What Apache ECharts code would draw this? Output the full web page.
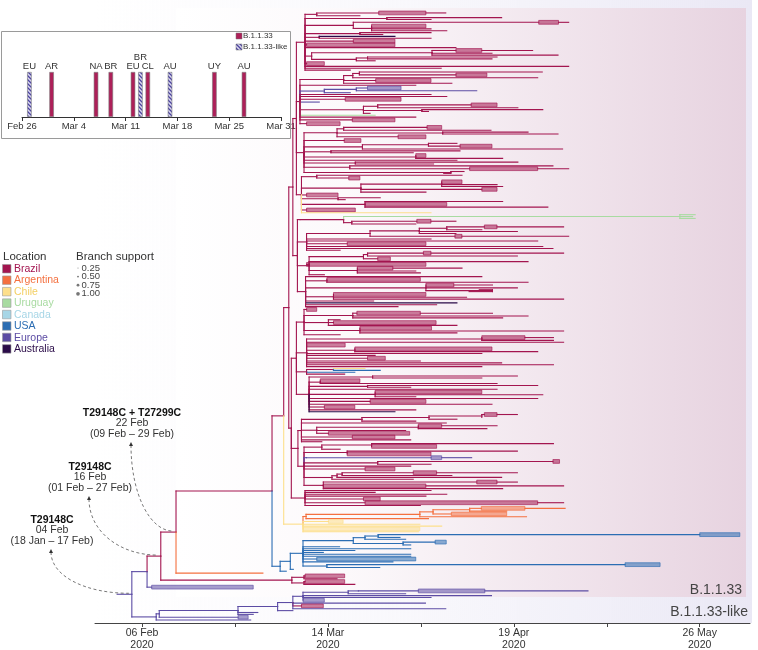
<!DOCTYPE html>
<html><head><meta charset="utf-8">
<script src="https://cdn.jsdelivr.net/npm/echarts@6/dist/echarts.min.js"></script>
<style>html,body{margin:0;padding:0;background:#fff}#c{width:758px;height:650px}</style>
</head><body><div id="c"></div><script>
// ---------------- DATA ----------------
const locationCodes  = ['BR','AR','CL','UY','CA','US','EU','AU'];
const locationNames  = ['Brazil','Argentina','Chile','Uruguay','Canada','USA','Europe','Australia'];
const locationColors = ['#a3154f','#f4703f','#fddf8b','#a8dba1','#a7d6e6','#2b6db3','#5c4ca4','#2a0b48'];
const supportValues  = ['0.25','0.50','0.75','1.00'];

// main time axis (days since 1 Jan 2020; 0.1-year steps)
const axisTickDays   = [36.6, 54.9, 73.2, 91.5, 109.8, 128.1, 146.4];
const axisLabelDays  = [36.6, 73.2, 109.8, 146.4];
const axisLabelText  = ['06 Feb\n2020','14 Mar\n2020','19 Apr\n2020','26 May\n2020'];

// inset: introductions (days after 26 Feb)
const insetTickLabels = ['Feb 26','Mar 4','Mar 11','Mar 18','Mar 25','Mar 31'];
const introLabels   = ['EU','AR','NA','BR','EU','BR','CL','AU','UY','AU'];
const introDays     = [1, 4, 10, 12, 15, 16, 17, 20, 26, 30];
const introLineage  = ['like','33','33','33','33','like','33','like','33','33'];

// annotations
const annoMutation = ['T29148C','T29148C','T29148C + T27299C'];
const annoDate     = ['04 Feb','16 Feb','22 Feb'];
const annoInterval = ['(18 Jan – 17 Feb)','(01 Feb – 27 Feb)','(09 Feb – 29 Feb)'];

// tree (dates in days since 1 Jan 2020). number = tip date; [node, ...children];
// {b:[start,end,(tipEnd)]} = collapsed band of tips; {t:date,c:loc} tip; {n:[...],c:loc} clade
const cladeB1 = [68.7,
  [71.0, {b:[83.2,92.5,96.4]}, 79.5],
  [84.8, 107.4, 93.5],
  [78.2, {b:[114.7,118.6,120.6]}, [81.8, {b:[81.8,92.5]}, 93.5, 96.6]],
  [79.5, 93.5, 84.0],
  [71.5, {t:86.4,c:'AU'}, 93.5],
  {b:[78.2,86.4]}, {b:[69.0,86.4]},
  98.4,
  [70.0, [93.7, {b:[98.4,103.5,113.5]}, 105.5, 118.5], [78.8, [81.0, 106.5, 105.5], 82.5]],
  {b:[69.0,72.5]}, 120.6, 95.5, 77.6];
const cladeB2 = [67.7,
  [76.3, [78.1, [79.4, 115.4, {b:[98.4,104.5]}], 114.5], {b:[82.6,93.5]}, 97.6],
  90.5,
  {n:[72.5, [78.8, {b:[81.0,87.6]}, 102.5], 77.6], c:'EU'},
  93.5, 96.6, {b:[76.6,87.6]},
  {t:71.5, c:'EU'},
  [80.2, [83.0, {b:[101.4,106.5]}, 110.6], [91.7, 115.5, 93.0], 81.5],
  {t:82.5, c:'UY'},
  90.5, {b:[78.0,86.4]}, {b:[69.0,75.6]}];
const cladeB3 = [68.5,
  [75.0, [76.3, {b:[92.7,95.6]}, 105.3], [95.8, 112.6, 118.5], {b:[87.0,92.5]}],
  {b:[76.4,79.7]},
  [80.0, [93.0, 98.6, {b:[99.2,105.5]}], 119.4],
  [73.8, 99.2, 90.0],
  [90.5, {b:[90.5,92.5]}, 107.6],
  98.6,
  [78.6, 110.6, 94.0],
  [77.5, 117.5, {b:[101.1,114.5,120.6]}],
  [97.4, 100.0, 96.0]];
const cladeB4 = [68.0,
  [71.0, 99.6, {b:[77.3,79.5]}],
  [79.7, [95.6, {b:[95.6,99.6]}, 106.5, 107.6], {b:[103.5,106.5]}, 92.5],
  {b:[69.0,75.2]},
  [75.2, 83.5, 76.6],
  [80.5, 107.6, {b:[80.5,96.6]}, 116.5],
  {b:[69.0,78.6]},
  {t:93.5, c:'CL'}];
const cladeB5 = [67.7,
  [76.3, {n:[142.5, 145.5, 145.0, 145.5], c:'UY'}, [77.9, {b:[90.7,93.5,98.4]}, 90.5]]];
const cladeB6 = [69.0,
  [81.5, [91.2, [96.6, {b:[104.0,106.5,119.6]}, 103.5], 110.5, 98.4], {b:[98.2,99.6,120.6]}],
  93.5, 114.5, {b:[77.0,92.5]}, 115.5, 117.5, 75.6];
const cladeB7 = [69.5,
  [80.2, [81.0, {b:[92.0,93.5,119.6]}, 110.5], {b:[83.0,85.5]}],
  112.6, {b:[69.0,92.5]},
  [79.0, {b:[79.0,86.0,99.6]}, 90.5, 91.4],
  72.5];
const cladeB8 = [68.8,
  103.5,
  [73.0, {b:[73.0,91.4]}, 112.6],
  [92.5, {b:[92.5,98.0,105.6]}, 110.5, [105.6, 103.0, 101.0]],
  [74.3, {b:[74.3,92.5]}, 100.5, 119.6],
  82.2, {t:98.6, c:'AU'},
  94.6, 87.0];
const cladeB9 = [68.5,
  {b:[69.0,71.0]},
  [78.1, {b:[78.9,91.4,105.6]}, 112.6, 107.6],
  [73.3, 75.6, {b:[74.3,94.5]}, 98.6],
  [79.5, {b:[79.5,93.6]}, 119.6, 98.6], 75.6];
const cladeB10 = [69.0,
  [103.5, {b:[103.5,112.0,117.6]}, 117.6],
  119.6, {b:[69.0,76.6]}, [78.5, {b:[78.5,105.5]}, 114.5], 103.5,
  82.5, {b:[81.0,84.5]}, 91.4, 107.4, 117.6,
  103.5];
const cladeB11 = [69.0, [74.3, {t:80.5,c:'CL'}, {t:83.5,c:'US'}], {t:78.5,c:'US'}, 76.5];
const cladeB12 = [69.5,
  [82.0, 110.5, 103.5],
  [71.7, {b:[71.7,79.5]}, 106.5],
  [81.0, 114.5, 89.5], 106.5,
  [82.5, {b:[82.5,103.5]}, 115.5, 90.5],
  114.5, {b:[81.5,92.5]},
  105.5, {b:[72.5,78.5]}, 90.5,
  {t:86.4, c:'AU'}];
const cladeB13 = [68.0,
  [79.9, [93.1, [103.5, {b:[104.0,106.5,110.5]}, 103.5], 98.6], 90.5],
  96.5,
  [71.0, [91.0, {b:[91.0,95.6,106.5]}, 104.5], 88.5, {b:[73.3,89.3]}],
  {b:[78.0,86.4]}, 89.5, 72.0];
const cladeB14 = [68.5,
  [72.0, [81.8, 117.6, {b:[81.8,94.6]}], 75.6],
  [77.0, 110.5, {b:[77.0,93.5]}],
  {n:[69.0, {b:[93.5,95.6,101.5]}], c:'EU'},
  [83.0, {b:[117.5,118.8]}, 93.5],
  89.5, {b:[80.5,86.4]},
  [74.0, [75.0, [76.0, {b:[90.0,94.6,110.5]}, 97.6], 107.4], 90.0],
  [72.3, {b:[102.5,106.5,110.5]}, {b:[72.3,92.5,119.6]}, 107.6]];
const cladeB15 = [68.7, 93.5, 82.5, 96.6, 92.5, {b:[80.2,83.5]}, {b:[80.5,114.5,119.6]}, 91.4];
const cladeArgentina = {n:[68.9, [91.3, [93.9, [101.1, {b:[103.4,112.0,119.9]}, 108.4], {b:[97.5,108.4]}], 112.3], 93.0], c:'AR'};
const cladeChile = {n:[68.3, cladeArgentina, {b:[73.3,76.2]}, 91.3, 95.6, {b:[68.3,91.3]}, 91.0], c:'CL'};
const cladeUSA = {n:[63.8,
  [65.8,
    [68.3,
      [78.2, [80.5, [83.1, {b:[146.4,154.3]}, 87.4], 88.5], [88.0, {b:[94.3,96.5]}, 89.5]],
      75.5, 89.5, 78.5, 72.3, 89.5, 89.5, {b:[71.0,90.5]}, 86.0,
      [73.0, {b:[131.7,138.6]}, 83.4]],
    66.4],
  65.0], c:'US'};
const cladeBrazilSmall = [66.1, [68.5, {b:[68.7,76.5]}, 75.0], [68.5, {b:[68.7,76.5]}, 78.5]];
const cladeLikeUpper = [63.3,
  [66.3,
    [68.3, [77.2, [79.2, {b:[91.0,104.1,124.4]}], 88.5], 105.4, 93.5, {b:[68.3,72.5]}],
    92.4, {b:[68.0,72.3], c:'BR'}, 96.4],
  66.3];
const cladeLike = {n:[39.4, [40.0, [55.5, cladeLikeUpper, 59.4, 58.5], {b:[55.5,57.5]}], 58.0], c:'EU'};
const rootStubDay = 31.7;

const cladeBigRed = [65.5,
  [66.3, [67.0, cladeB1, cladeB2, cladeB3, cladeB4], [67.2, cladeB5, cladeB6, cladeB7, cladeB8]],
  [66.0, [67.0, cladeB9, cladeB10, cladeB11, cladeB12], [67.3, cladeB13, cladeB14], cladeB15]];
const nodeN2 = [64.5, cladeBigRed, cladeChile];
const nodeN1 = [62.2, nodeN2, cladeUSA];
const nodeR3 = [43.3, nodeN1, {t:60.4, c:'AR'}];
const nodeR2 = {n:[40.3, nodeR3, cladeBrazilSmall], c:'BR'};
const nodeR1 = {n:[37.6, nodeR2, {b:[38.5,58.5]}], c:'EU'};
const treeRoot = {n:[34.6, nodeR1, cladeLike], c:'EU'};

// ---------------- BUILD ----------------
const FONT = '"Liberation Sans", "Helvetica Neue", Arial, sans-serif';
function ci(code){ return locationCodes.indexOf(code); }
function parse(item, inh){
  if (typeof item === 'number') return {tip:true, x:item, c:inh, rows:1};
  if (Array.isArray(item)) return {x:item[0], c:inh, kids:item.slice(1).map(k=>parse(k,inh))};
  if (item.b) { const c=item.c?ci(item.c):inh; return {tip:true, band:item.b, x:item.b[item.b.length-1], c, rows:2}; }
  if (item.t !== undefined) return {tip:true, x:item.t, c:item.c?ci(item.c):inh, rows:1};
  const c = item.c?ci(item.c):inh;
  return {x:item.n[0], c, kids:item.n.slice(1).map(k=>parse(k,c))};
}
const root = parse(treeRoot, 0);
let row = 0;
function assignY(n){
  if (n.tip){ n.y = row + (n.rows-1)/2; row += n.rows; return; }
  n.kids.forEach(assignY);
  n.y = (n.kids[0].y + n.kids[n.kids.length-1].y)/2;
}
assignY(root);
const nRows = row;
const segs = [];
function emit(n){
  n.kids.forEach(k=>{
    segs.push([n.x, n.y, n.x, k.y, k.c, 0]);
    if (k.band){
      segs.push([n.x, k.y, k.band[0], k.y, k.c, 0]);
      segs.push([k.band[0], k.y, k.band[1], k.y, k.c, 1]);
      if (k.band.length > 2) segs.push([k.band[1], k.y, k.band[2], k.y, k.c, 0]);
    } else {
      segs.push([n.x, k.y, k.x, k.y, k.c, 0]);
    }
    if (k.kids) emit(k);
  });
}
segs.push([rootStubDay, root.y, root.x, root.y, root.c, 0]);
emit(root);

function hexToRgba(h, a){
  const r=parseInt(h.slice(1,3),16), g=parseInt(h.slice(3,5),16), b=parseInt(h.slice(5,7),16);
  return 'rgba('+r+','+g+','+b+','+a+')';
}

// hatch pattern
const hc = document.createElement('canvas'); hc.width = 4; hc.height = 4;
const hg = hc.getContext('2d');
hg.fillStyle = '#dcd9f0'; hg.fillRect(0,0,4,4);
hg.strokeStyle = '#4b43a0'; hg.lineWidth = 1.3; hg.beginPath();
hg.moveTo(-1,-1); hg.lineTo(5,5); hg.moveTo(3,-1); hg.lineTo(5,1); hg.moveTo(-1,3); hg.lineTo(1,5); hg.stroke();
const hatch = {image: hc, repeat: 'repeat'};

const barData = introDays.map((d,i)=>({
  value:[d,1], name:introLabels[i],
  itemStyle:{color: introLineage[i]==='like' ? hatch : '#ad2059', borderColor:'#7a7a7a', borderWidth:0.6},
  label: (i===5) ? {offset:[0,-9]} : undefined
}));

const AXIS_Y = 623;
const chart = echarts.init(document.getElementById('c'));
const yMax = (nRows-1) * (AXIS_Y-12)/(620-12);
chart.setOption({
  animation:false,
  textStyle:{fontFamily:FONT},
  grid:[{left:95, right:8, top:12, bottom:650-AXIS_Y, outerBoundsMode:'none', containLabel:false},
        {left:22, top:72, width:259, height:45, outerBoundsMode:'none', containLabel:false}],
  xAxis:[{
    type:'value', gridIndex:0, min:27.35, max:156.3,
    splitLine:{show:false},
    axisLine:{show:true, onZero:false, lineStyle:{color:'#444', width:1}},
    axisTick:{show:true, customValues:axisTickDays, length:4, lineStyle:{color:'#444'}},
    axisLabel:{show:true, customValues:axisLabelDays, color:'#333', fontSize:10.5, lineHeight:12, margin:4, fontFamily:FONT,
      formatter:(v)=>{ let bi=0; axisLabelDays.forEach((d,i)=>{ if (Math.abs(d-v)<Math.abs(axisLabelDays[bi]-v)) bi=i; }); return axisLabelText[bi]; }}
  },{
    type:'value', gridIndex:1, min:0, max:35, interval:7,
    splitLine:{show:false},
    axisLine:{show:true, onZero:false, lineStyle:{color:'#333', width:1}},
    axisTick:{show:true, length:4, lineStyle:{color:'#333'}},
    axisLabel:{color:'#333', fontSize:9.5, margin:4, fontFamily:FONT, formatter:(v)=>insetTickLabels[Math.round(v/7)]}
  }],
  yAxis:[{type:'value', gridIndex:0, inverse:true, min:0, max:yMax, show:false},
         {type:'value', gridIndex:1, min:0, max:1, show:false}],
  series:[{
    type:'custom', xAxisIndex:0, yAxisIndex:0, clip:false, z:5,
    encode:{x:[0,2], y:[1,3]},
    data:segs,
    renderItem:(params, api)=>{
      const p1 = api.coord([api.value(0), api.value(1)]);
      const p2 = api.coord([api.value(2), api.value(3)]);
      const col = locationColors[api.value(4)];
      if (api.value(5) === 1){
        return {type:'rect', shape:{x:p1[0], y:p1[1]-1.9, width:p2[0]-p1[0], height:3.8},
          style:{fill:hexToRgba(col,0.55), stroke:hexToRgba(col,0.9), lineWidth:0.7}};
      }
      return {type:'line', shape:{x1:p1[0], y1:p1[1], x2:p2[0], y2:p2[1]},
        style:{stroke:col, lineWidth:1.1, lineCap:'square'}};
    }
  },{
    type:'bar', xAxisIndex:1, yAxisIndex:1, barWidth:4.5, z:5,
    label:{show:true, position:'top', formatter:'{b}', fontSize:9.5, color:'#333', distance:1, fontFamily:FONT},
    data:barData
  }]
});

// -------- decorations (panels, legend, annotations) --------
const G = [];
G.push({type:'rect', z:-20, shape:{x:95, y:0, width:657, height:AXIS_Y},
  style:{fill:new echarts.graphic.LinearGradient(0,0,1,0,[{offset:0,color:'rgba(236,234,246,0)'},{offset:0.5,color:'rgba(236,234,246,0.35)'},{offset:1,color:'rgba(234,232,245,1)'}])}});
G.push({type:'rect', z:-19, shape:{x:176, y:8, width:570, height:589},
  style:{fill:new echarts.graphic.LinearGradient(0,0,1,0,[{offset:0,color:'rgba(255,255,255,1)'},{offset:0.3,color:'#fcf9fb'},{offset:1,color:'#e7d3e0'}])}});
G.push({type:'text', z:10, x:742, y:590, style:{text:'B.1.1.33', fill:'#444', fontSize:14, fontFamily:FONT, textAlign:'right', textVerticalAlign:'middle', align:'right', verticalAlign:'middle'}});
G.push({type:'text', z:10, x:748, y:612, style:{text:'B.1.1.33-like', fill:'#444', fontSize:14, fontFamily:FONT, textAlign:'right', textVerticalAlign:'middle', align:'right', verticalAlign:'middle'}});
// inset box
G.push({type:'rect', z:-5, shape:{x:1.5, y:31.5, width:289, height:107}, style:{fill:'#fff', stroke:'#9a9a9a', lineWidth:1}});
G.push({type:'rect', z:10, shape:{x:236, y:33, width:6, height:6}, style:{fill:'#ad2059', stroke:'#777', lineWidth:0.5}});
G.push({type:'rect', z:10, shape:{x:236, y:44, width:6, height:6}, style:{fill:hatch, stroke:'#777', lineWidth:0.5}});
G.push({type:'text', z:10, x:243, y:36, style:{text:'B.1.1.33', fill:'#333', fontSize:8, fontFamily:FONT, textVerticalAlign:'middle', verticalAlign:'middle'}});
G.push({type:'text', z:10, x:243, y:47, style:{text:'B.1.1.33-like', fill:'#333', fontSize:8, fontFamily:FONT, textVerticalAlign:'middle', verticalAlign:'middle'}});
// location legend
G.push({type:'text', z:10, x:3, y:257, style:{text:'Location', fill:'#333', fontSize:11.5, fontFamily:FONT, textVerticalAlign:'middle', verticalAlign:'middle'}});
locationNames.forEach((nm,i)=>{
  const y = 269 + i*11.45;
  G.push({type:'rect', z:10, shape:{x:2.5, y:y-4.5, width:8.5, height:8.5}, style:{fill:locationColors[i], stroke:'#9a9a9a', lineWidth:0.6}});
  G.push({type:'text', z:10, x:14, y:y, style:{text:nm, fill: i===2 ? '#f3cf63' : locationColors[i], fontSize:10.5, fontFamily:FONT, textVerticalAlign:'middle', verticalAlign:'middle'}});
});
G.push({type:'text', z:10, x:76, y:257, style:{text:'Branch support', fill:'#333', fontSize:11.5, fontFamily:FONT, textVerticalAlign:'middle', verticalAlign:'middle'}});
supportValues.forEach((v,i)=>{
  const y = 268 + i*8.6;
  G.push({type:'circle', z:10, shape:{cx:78, cy:y, r:0.5+i*0.45}, style:{fill:'#777'}});
  G.push({type:'text', z:10, x:81.5, y:y, style:{text:v, fill:'#444', fontSize:9.5, fontFamily:FONT, textVerticalAlign:'middle', verticalAlign:'middle'}});
});
// annotations pointing to nodes
const r1 = root.kids[0], r2 = r1.kids[0], r3 = r2.kids[0];
const annoNodes = [root, r2, r3];
const annoPos = [[52,520],[90,467],[132,413]];
annoNodes.forEach((nd,i)=>{
  const p = chart.convertToPixel({gridIndex:0}, [nd.x, nd.y]);
  const [tx, ty] = annoPos[i];
  G.push({type:'text', z:10, x:tx, y:ty, style:{text:annoMutation[i], fill:'#111', fontSize:10.5, fontWeight:'bold', fontFamily:FONT, textAlign:'center', textVerticalAlign:'middle', align:'center', verticalAlign:'middle'}});
  G.push({type:'text', z:10, x:tx, y:ty+10.5, style:{text:annoDate[i], fill:'#333', fontSize:10.5, fontFamily:FONT, textAlign:'center', textVerticalAlign:'middle', align:'center', verticalAlign:'middle'}});
  G.push({type:'text', z:10, x:tx, y:ty+21, style:{text:annoInterval[i], fill:'#333', fontSize:10.5, fontFamily:FONT, textAlign:'center', textVerticalAlign:'middle', align:'center', verticalAlign:'middle'}});
  const ax = tx - 1, ay = ty + 29;
  const ex = p[0] - 3, ey = p[1] - 1;
  G.push({type:'bezierCurve', z:10, shape:{x1:ax, y1:ay+3, cpx1:ax, cpy1:ay+3+(ey-ay)*0.55, cpx2:ax+(ex-ax)*0.45, cpy2:ey, x2:ex, y2:ey},
    style:{stroke:'#555', lineWidth:0.8, lineDash:[3,2.5], fill:null}});
  G.push({type:'polygon', z:10, shape:{points:[[ax,ay],[ax-2,ay+4],[ax+2,ay+4]]}, style:{fill:'#333'}});
});
chart.setOption({graphic:{elements:G}});
</script></body></html>
